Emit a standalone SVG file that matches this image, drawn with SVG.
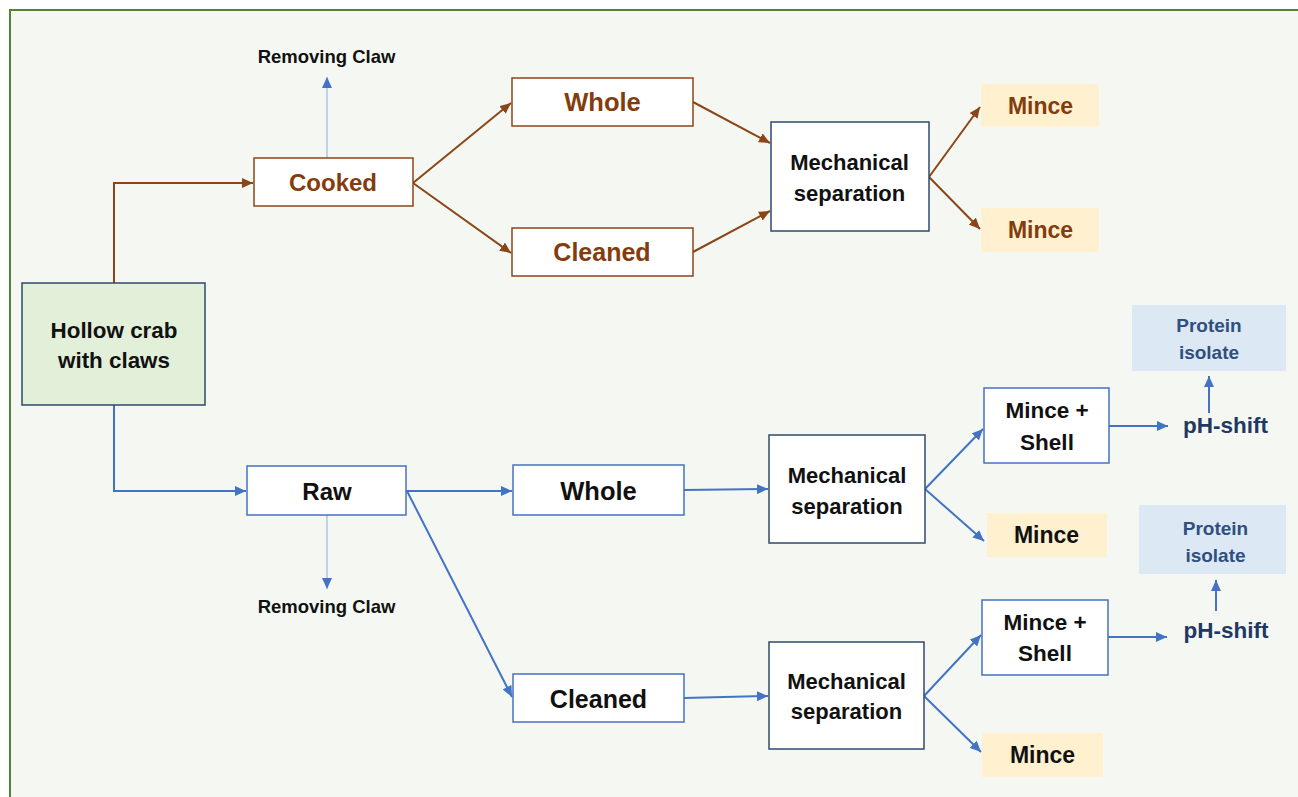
<svg xmlns="http://www.w3.org/2000/svg" width="1298" height="797" viewBox="0 0 1298 797">
<style>
text{font-family:"Liberation Sans",Arial,sans-serif;font-weight:bold;text-anchor:middle}
.brn{fill:#843c0c}
.blk{fill:#111111}
.navy{fill:#1f3864}
.pi{fill:#2f4f80}
.bx-brn{fill:#ffffff;stroke:#8a4518;stroke-width:1.5}
.bx-blu{fill:#ffffff;stroke:#4472c4;stroke-width:1.5}
.bx-dk{fill:#ffffff;stroke:#2e4a6e;stroke-width:1.5}
.c-brn{fill:none;stroke:#8a4518;stroke-width:2}
.c-blu{fill:none;stroke:#4472c4;stroke-width:2}
.c-thin{fill:none;stroke:#8eaadb;stroke-width:1}
</style>
<defs>
<marker id="ab" markerUnits="userSpaceOnUse" markerWidth="12" markerHeight="10" refX="11" refY="5" orient="auto"><path d="M0,0 L11,5 L0,10 Z" fill="#8a4518"/></marker>
<marker id="al" markerUnits="userSpaceOnUse" markerWidth="12" markerHeight="10" refX="11" refY="5" orient="auto"><path d="M0,0 L11,5 L0,10 Z" fill="#4472c4"/></marker>
</defs>
<rect x="0" y="0" width="1298" height="797" fill="#ffffff"/>
<rect x="10" y="10" width="1300" height="800" fill="#f5f8f2" stroke="#538135" stroke-width="2"/>

<g id="connectors">
<path class="c-brn" d="M114,283 V183 H253" marker-end="url(#ab)"/>
<path class="c-brn" d="M413,183 L511,103" marker-end="url(#ab)"/>
<path class="c-brn" d="M413,183 L511,253" marker-end="url(#ab)"/>
<path class="c-brn" d="M693,102 L770,143" marker-end="url(#ab)"/>
<path class="c-brn" d="M693,252 L770,211" marker-end="url(#ab)"/>
<path class="c-brn" d="M929,177 L980,107" marker-end="url(#ab)"/>
<path class="c-brn" d="M929,177 L980,229" marker-end="url(#ab)"/>
<path class="c-thin" d="M327,158 V77" marker-end="url(#al)"/>
<path class="c-blu" d="M114,405 V491 H246" marker-end="url(#al)"/>
<path class="c-blu" d="M406,491 H512" marker-end="url(#al)"/>
<path class="c-blu" d="M407,491 L512,697" marker-end="url(#al)"/>
<path class="c-blu" d="M684,490 L768,489" marker-end="url(#al)"/>
<path class="c-blu" d="M684,698 L768,696" marker-end="url(#al)"/>
<path class="c-blu" d="M925,489 L983,429" marker-end="url(#al)"/>
<path class="c-blu" d="M925,489 L984,541" marker-end="url(#al)"/>
<path class="c-blu" d="M924,696 L981,635" marker-end="url(#al)"/>
<path class="c-blu" d="M924,696 L981,752" marker-end="url(#al)"/>
<path class="c-blu" d="M1109,426 H1168" marker-end="url(#al)"/>
<path class="c-blu" d="M1108,637 H1167" marker-end="url(#al)"/>
<path class="c-blu" d="M1209,413 V376" marker-end="url(#al)"/>
<path class="c-blu" d="M1216,611 V580" marker-end="url(#al)"/>
<path class="c-thin" d="M327,515 V589" marker-end="url(#al)"/>
</g>

<g id="hollow-crab">
<rect x="22" y="283" width="183" height="122" fill="#e2efd9" stroke="#2e4a6e" stroke-width="1.5"/>
<text class="blk" x="114" y="338" font-size="22.4">Hollow crab</text>
<text class="blk" x="114" y="368" font-size="22.4">with claws</text>
</g>

<g id="removing-claw-top"><text class="blk" x="326.5" y="63" font-size="18.5">Removing Claw</text></g>

<g id="cooked">
<rect class="bx-brn" x="254" y="158" width="159" height="48"/>
<text class="brn" x="333" y="191" font-size="24">Cooked</text>
</g>
<g id="whole-cooked">
<rect class="bx-brn" x="512" y="78" width="181" height="48"/>
<text class="brn" x="602.5" y="111" font-size="25.5">Whole</text>
</g>
<g id="cleaned-cooked">
<rect class="bx-brn" x="512" y="228" width="181" height="48"/>
<text class="brn" x="602" y="261" font-size="25">Cleaned</text>
</g>
<g id="mech-cooked">
<rect class="bx-dk" x="771" y="122" width="158" height="109"/>
<text class="blk" x="849.5" y="170" font-size="22">Mechanical</text>
<text class="blk" x="849.5" y="201" font-size="22">separation</text>
</g>
<g id="mince-cooked-1">
<rect x="981" y="84" width="118" height="43" fill="#fff0cf"/>
<text class="brn" x="1040.5" y="114" font-size="23">Mince</text>
</g>
<g id="mince-cooked-2">
<rect x="981" y="208" width="118" height="44" fill="#fff0cf"/>
<text class="brn" x="1040.5" y="238" font-size="23">Mince</text>
</g>

<g id="raw">
<rect class="bx-blu" x="247" y="466" width="159" height="49"/>
<text class="blk" x="327" y="500" font-size="24">Raw</text>
</g>
<g id="removing-claw-bottom"><text class="blk" x="326.5" y="613" font-size="18.5">Removing Claw</text></g>

<g id="whole-raw">
<rect class="bx-blu" x="513" y="465" width="171" height="50"/>
<text class="blk" x="598.5" y="500" font-size="25.5">Whole</text>
</g>
<g id="cleaned-raw">
<rect class="bx-blu" x="513" y="674" width="171" height="48"/>
<text class="blk" x="598.5" y="708" font-size="25">Cleaned</text>
</g>
<g id="mech-whole">
<rect class="bx-dk" x="769" y="435" width="156" height="108"/>
<text class="blk" x="847" y="483" font-size="22">Mechanical</text>
<text class="blk" x="847" y="514" font-size="22">separation</text>
</g>
<g id="mech-cleaned">
<rect class="bx-dk" x="769" y="642" width="155" height="107"/>
<text class="blk" x="846.5" y="689" font-size="22">Mechanical</text>
<text class="blk" x="846.5" y="719" font-size="22">separation</text>
</g>
<g id="mince-shell-1">
<rect class="bx-blu" x="984" y="388" width="125" height="75"/>
<text class="blk" x="1047" y="418" font-size="22.5">Mince +</text>
<text class="blk" x="1047" y="450" font-size="22.5">Shell</text>
</g>
<g id="mince-raw-1">
<rect x="987" y="513" width="120" height="44" fill="#fff0cf"/>
<text class="blk" x="1046.5" y="543" font-size="23">Mince</text>
</g>
<g id="ph-shift-1"><text class="navy" x="1225.5" y="433" font-size="22.5">pH-shift</text></g>
<g id="protein-isolate-1">
<rect x="1132" y="305" width="154" height="66" fill="#dde8f5"/>
<text class="pi" x="1209" y="332" font-size="19">Protein</text>
<text class="pi" x="1209" y="359" font-size="19">isolate</text>
</g>
<g id="mince-shell-2">
<rect class="bx-blu" x="982" y="600" width="126" height="75"/>
<text class="blk" x="1045" y="630" font-size="22.5">Mince +</text>
<text class="blk" x="1045" y="661" font-size="22.5">Shell</text>
</g>
<g id="mince-raw-2">
<rect x="982" y="733" width="121" height="44" fill="#fff0cf"/>
<text class="blk" x="1042.5" y="763" font-size="23">Mince</text>
</g>
<g id="ph-shift-2"><text class="navy" x="1226" y="638" font-size="22.5">pH-shift</text></g>
<g id="protein-isolate-2">
<rect x="1139" y="505" width="147" height="69" fill="#dde8f5"/>
<text class="pi" x="1215.5" y="535" font-size="19">Protein</text>
<text class="pi" x="1215.5" y="562" font-size="19">isolate</text>
</g>
</svg>
